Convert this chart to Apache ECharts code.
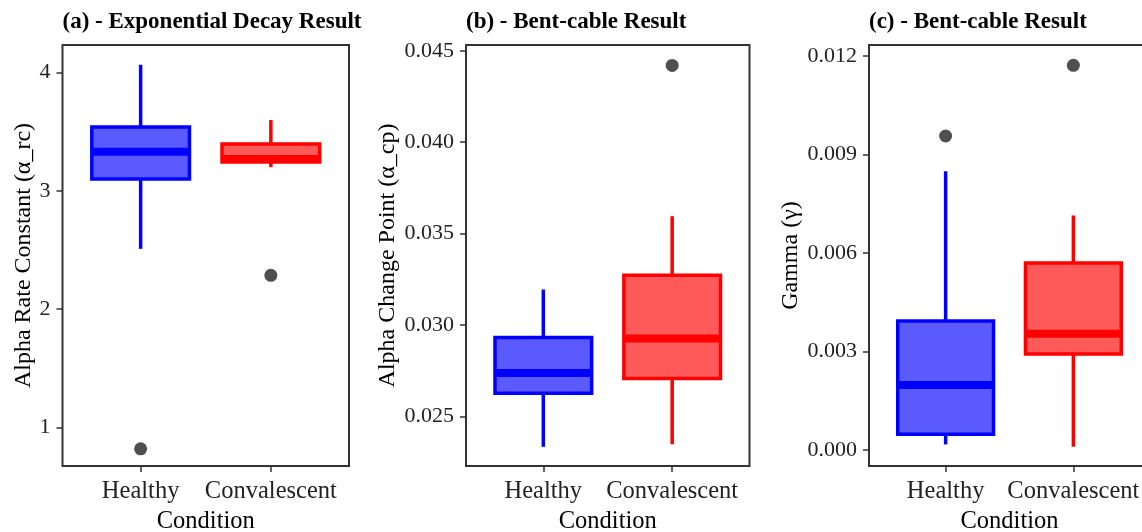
<!DOCTYPE html>
<html><head><meta charset="utf-8">
<script src="https://cdn.jsdelivr.net/npm/echarts@6/dist/echarts.min.js"></script>
<style>html,body{margin:0;padding:0;background:#fff}#c{width:1142px;height:532px}</style>
</head><body><div id="c"></div>
<script>
// ---- data ----
const categories = ['Healthy', 'Convalescent'];
const categoryPos = [1, 2];
// each box: [lower whisker, Q1, median, Q3, upper whisker]
const expDecayBoxes = [[2.51, 3.10, 3.33, 3.54, 4.065], [3.20, 3.243, 3.269, 3.396, 3.598]];
const expDecayOutliers = [[1, 0.82], [2, 2.286]];
const changePointBoxes = [[0.02333, 0.02626, 0.02737, 0.02931, 0.03194], [0.02347, 0.02707, 0.02926, 0.03272, 0.03595]];
const changePointOutliers = [[2, 0.0442]];
const gammaBoxes = [[0.00017, 0.00048, 0.00198, 0.00393, 0.00849], [0.0001, 0.00292, 0.00354, 0.00569, 0.00714]];
const gammaOutliers = [[1, 0.00956], [2, 0.01171]];
const ticksA = [1, 2, 3, 4];
const ticksB = [0.025, 0.030, 0.035, 0.040, 0.045];
const ticksC = [0.000, 0.003, 0.006, 0.009, 0.012];
const titles = ['(a) - Exponential Decay Result', '(b) - Bent-cable Result', '(c) - Bent-cable Result'];
const yNames = ['Alpha Rate Constant (\u03b1_rc)', 'Alpha Change Point (\u03b1_cp)', 'Gamma (\u03b3)'];
const xName = 'Condition';

// ---- styling ----
const FONT = '"Liberation Serif", "Times New Roman", serif';
const strokeColors = ['#0000ff', '#ff0000'];
const fillColors = ['#5a5aff', '#ff5a5a'];
const BOX_WIDTH = 0.75;

const panels = [
  {left: 62.5, width: 286.5, ymin: 0.675, ymax: 4.232, ticks: ticksA, fmt: v => String(v), boxes: expDecayBoxes, outliers: expDecayOutliers, nameGap: 27},
  {left: 466, width: 283.5, ymin: 0.02228, ymax: 0.04532, ticks: ticksB, fmt: v => v.toFixed(3), boxes: changePointBoxes, outliers: changePointOutliers, nameGap: 66},
  {left: 869, width: 281, ymin: -0.000487, ymax: 0.01233, ticks: ticksC, fmt: v => v.toFixed(3), boxes: gammaBoxes, outliers: gammaOutliers, nameGap: 66}
];

const option = {
  animation: false,
  backgroundColor: '#fff',
  title: [], grid: [], xAxis: [], yAxis: [], series: []
};

panels.forEach((p, i) => {
  option.title.push({
    text: titles[i], left: p.left - 5, top: 6,
    textStyle: {fontFamily: FONT, fontWeight: 'bold', fontSize: 23, color: '#000'}
  });
  option.grid.push({
    left: p.left, top: 45, width: p.width, height: 421,
    outerBoundsMode: 'none', containLabel: false,
    show: true, borderColor: '#333', borderWidth: 2, backgroundColor: 'transparent'
  });
  option.xAxis.push({
    gridIndex: i, type: 'value', min: 0.4, max: 2.6,
    axisLine: {show: false, onZero: false}, splitLine: {show: false},
    axisTick: {show: true, customValues: categoryPos, length: 6, lineStyle: {color: '#333', width: 1.5}},
    axisLabel: {customValues: categoryPos, formatter: v => categories[categoryPos.indexOf(v)] || '',
      fontFamily: FONT, fontSize: 24.5, color: '#222', margin: 13},
    name: xName, nameLocation: 'middle', nameGap: 42,
    nameTextStyle: {fontFamily: FONT, fontSize: 24.5, color: '#000'}
  });
  option.yAxis.push({
    gridIndex: i, type: 'value', min: p.ymin, max: p.ymax,
    axisLine: {show: false, onZero: false}, splitLine: {show: false},
    axisTick: {show: true, customValues: p.ticks, length: 6, lineStyle: {color: '#333', width: 1.5}},
    axisLabel: {customValues: p.ticks, formatter: p.fmt, fontFamily: FONT, fontSize: 22, color: '#222', margin: 12},
    name: yNames[i], nameLocation: 'middle', nameRotate: 90, nameGap: p.nameGap,
    nameTextStyle: {fontFamily: FONT, fontSize: 24, color: '#000'}
  });
  option.series.push({
    type: 'custom', xAxisIndex: i, yAxisIndex: i,
    data: p.boxes.map((b, k) => [categoryPos[k]].concat(b)),
    encode: {x: 0, y: [1, 2, 3, 4, 5]},
    renderItem: function (params, api) {
      const x = api.value(0);
      const pt = k => api.coord([x, api.value(k)]);
      const lo = pt(1), q1 = pt(2), md = pt(3), q3 = pt(4), hi = pt(5);
      const w = api.size([BOX_WIDTH, 0])[0];
      const stroke = strokeColors[params.dataIndex], fill = fillColors[params.dataIndex];
      const cx = lo[0];
      return {type: 'group', children: [
        {type: 'line', shape: {x1: cx, y1: hi[1], x2: cx, y2: q3[1]}, style: {stroke: stroke, lineWidth: 3.5}},
        {type: 'line', shape: {x1: cx, y1: q1[1], x2: cx, y2: lo[1]}, style: {stroke: stroke, lineWidth: 3.5}},
        {type: 'rect', shape: {x: cx - w / 2, y: q3[1], width: w, height: q1[1] - q3[1]}, style: {fill: fill, stroke: stroke, lineWidth: 3.5}},
        {type: 'line', shape: {x1: cx - w / 2, y1: md[1], x2: cx + w / 2, y2: md[1]}, style: {stroke: stroke, lineWidth: 8}}
      ]};
    }
  });
  option.series.push({
    type: 'scatter', xAxisIndex: i, yAxisIndex: i,
    data: p.outliers, symbolSize: 13,
    itemStyle: {color: '#4f4f4f', opacity: 1}
  });
});

const chart = echarts.init(document.getElementById('c'), null, {renderer: 'canvas'});
chart.setOption(option);
</script>
</body></html>
